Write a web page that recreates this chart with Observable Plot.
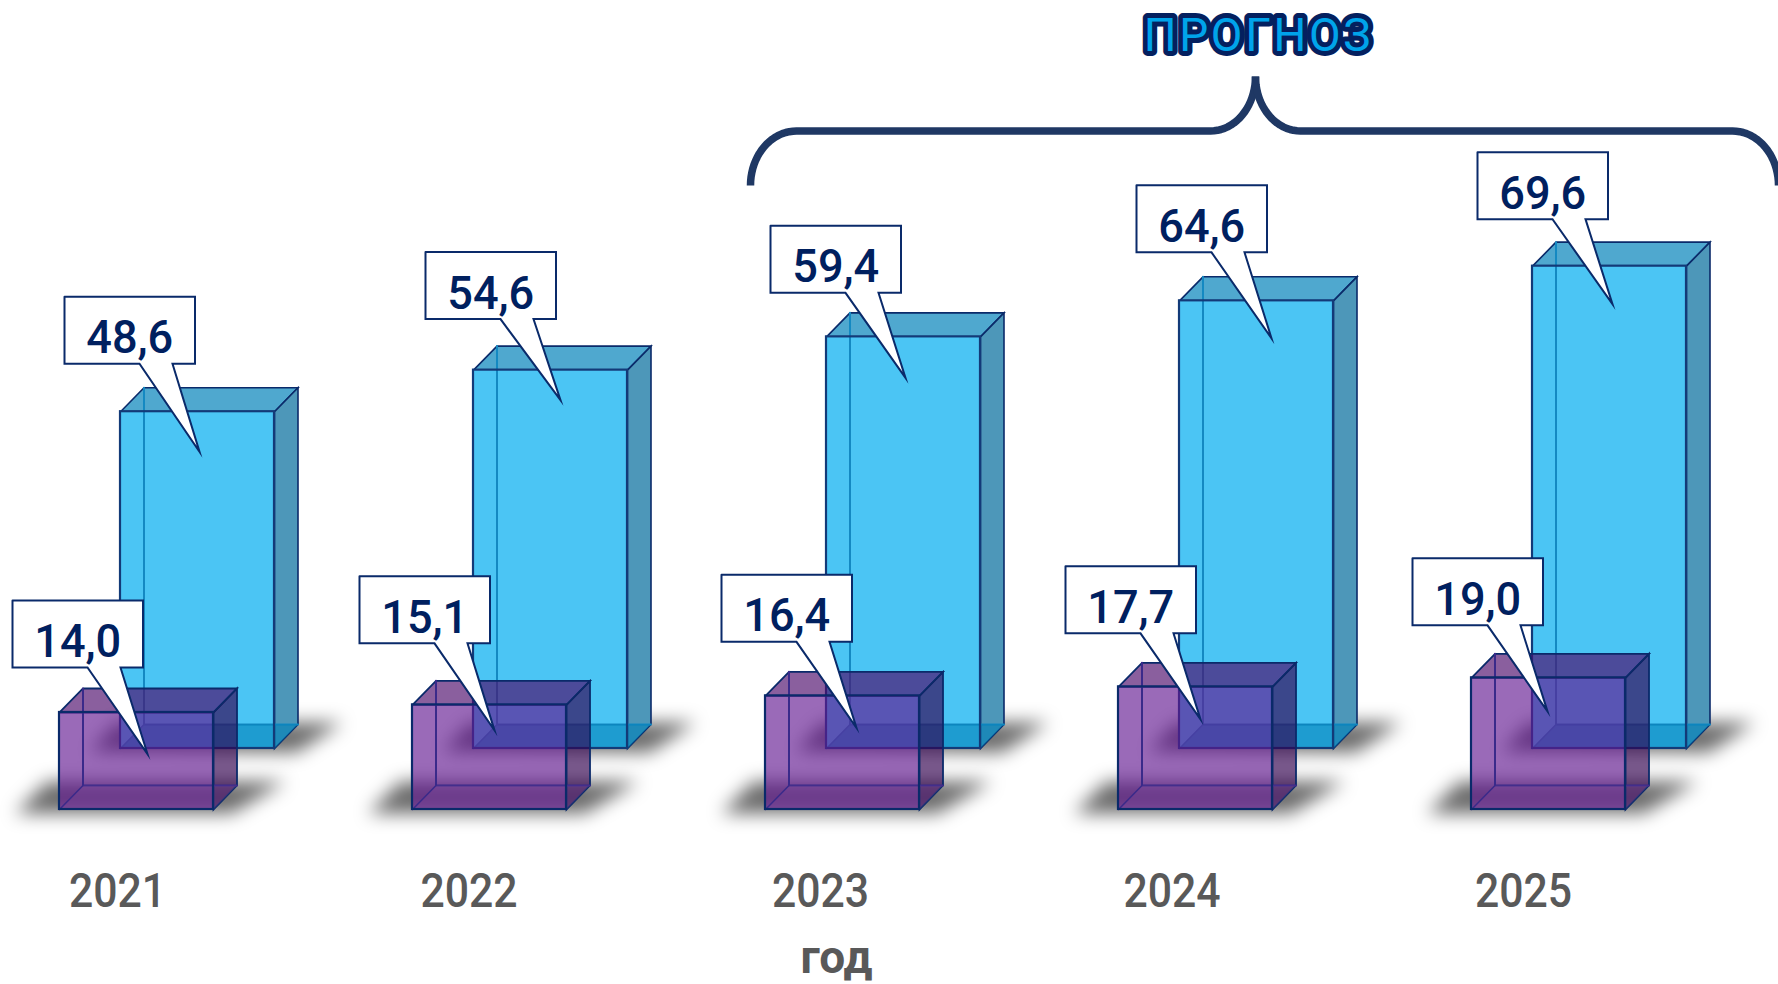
<!DOCTYPE html>
<html>
<head>
<meta charset="utf-8">
<script src="https://cdn.jsdelivr.net/npm/d3@7"></script>
<script src="https://cdn.jsdelivr.net/npm/@observablehq/plot@0.6"></script>
<style>html,body{margin:0;padding:0;background:#fff}svg{display:block}</style>
</head>
<body>
<div id="chart"></div>
<script>
const years = [2021, 2022, 2023, 2024, 2025];
const blueValues = [48.6, 54.6, 59.4, 64.6, 69.6];
const purpleValues = [14.0, 15.1, 16.4, 17.7, 19.0];
const axisName = "год";
const forecastLabel = "ПРОГНОЗ";

// Scale calibration (pixels per year, pixels per unit)
const W = 1778, H = 984, PX = 353, PY = 6.93, X0 = 117, BASE = 748;
const LOWER = 61;                 // the purple row stands lower than the blue one
const DEPTH_X = 23.5, DEPTH_Y = 24; // 3D depth
const fx = (yr, px) => yr + px / PX;
const fy = (v, px) => v - px / PY;

const blueGeom = {left: 3, width: 154};
const purpleGeom = {left: -58, width: 154};

// Callout placement relative to each bar's top-left corner (annotation layout)
const blueNoteDx = [-56, -48, -56, -43, -55];
const blueNoteDy = [-115, -118, -111, -115.5, -114];
const blueTipDy = [155, 148, 152, 153, 152];
const purpleNoteDx = [-47, -53, -44, -53, -59];
const purpleNoteDy = [-112, -128.5, -121, -120.5, -119.5];
const purpleTipDy = [153.5, 154, 153, 153, 153];
const NOTE_W = 130.5, NOTE_H = 67, TAIL_A = 75, TAIL_B = 108, TIP_X = 135;

const fmt = v => d3.format(".1f")(v).replace(".", ",");

function prism(values, g) {
  const faces = {top: [], side: [], bottom: [], backV: [], backB: []};
  const push = (arr, id, pts, yr, v) => pts.forEach(([a, b]) => arr.push({id, x: fx(yr, g.left + a), y: fy(v, b)}));
  values.forEach((v, i) => {
    const yr = years[i], w = g.width, d = DEPTH_X, e = DEPTH_Y;
    push(faces.top, "t" + i, [[0, 0], [d, -e], [w + d, -e], [w, 0], [0, 0]], yr, v);
    [[w, 0, v], [w + d, -e, v], [w + d, -e, 0], [w, 0, 0], [w, 0, v]].forEach(([a, b, val]) =>
      faces.side.push({id: "s" + i, x: fx(yr, g.left + a), y: fy(val, b)}));
    push(faces.bottom, "b" + i, [[0, 0], [d, -e], [w + d, -e], [w, 0], [0, 0]], yr, 0);
    [[d, -e, v], [d, -e, 0], [w + d, -e, 0]].forEach(([a, b, val]) =>
      faces.backV.push({id: "v" + i, x: fx(yr, g.left + a), y: fy(val, b)}));
    [[0, 0], [d, -e]].forEach(([a, b]) => faces.backB.push({id: "k" + i, x: fx(yr, g.left + a), y: fy(0, b)}));
  });
  return faces;
}

const rects = (values, g) => values.map((v, i) => ({x1: fx(years[i], g.left), x2: fx(years[i], g.left + g.width), y1: 0, y2: v}));

function shadow(pts, g) {
  return years.flatMap((yr, i) => pts.map(([a, b]) => ({id: i, x: fx(yr, g.left + a), y: fy(0, b)})));
}
const blueShadowShape = [[-30, 3], [-4, -26], [222, -26], [176, 4]];
const purpleShadowShape = [[-44, 4], [-12, -28], [226, -28], [172, 4]];

function notes(values, g, dxs, dys, tips) {
  const outline = [], labels = [];
  values.forEach((v, i) => {
    const L = g.left + dxs[i], T = dys[i], yr = years[i];
    [[0, 0], [NOTE_W, 0], [NOTE_W, NOTE_H], [TAIL_B, NOTE_H], [TIP_X, tips[i]], [TAIL_A, NOTE_H], [0, NOTE_H], [0, 0]]
      .forEach(([a, b]) => outline.push({id: i, x: fx(yr, L + a), y: fy(v, T + b)}));
    labels.push({x: fx(yr, L + NOTE_W / 2), y: fy(v, T + NOTE_H / 2 + 8), text: fmt(v)});
  });
  return {outline, labels};
}

// Brace over the forecast years, built from quarter ellipses
function arc(cx, cy, rx, ry, a0, a1) {
  return d3.range(0, 21).map(k => {
    const a = (a0 + (a1 - a0) * k / 20) * Math.PI / 180;
    return [cx + rx * Math.cos(a), cy + ry * Math.sin(a)];
  });
}
const braceLeft = [...arc(796, 185, 46, 54.5, 180, 270), ...arc(1210, 76, 45, 54.5, 90, 0)];
const braceRight = [...arc(1300, 76, 45, 54.5, 180, 90), ...arc(1732, 185, 46, 54.5, 270, 360)];
const toData = (pts, id) => pts.map(([x, y]) => ({id, x: 2021 + (x - X0) / PX, y: (BASE - y) / PY}));
const brace = [...toData(braceLeft, "l"), ...toData(braceRight, "r")];

const blur = r => (index, scales, values, dim, ctx, next) => {
  const g = next(index, scales, values, dim, ctx);
  g.style.filter = `blur(${r}px)`;
  return g;
};
// horizontally condenses each text in place (the reference face is a narrow DIN)
const condense = (k, spacing) => (index, scales, values, dim, ctx, next) => {
  const g = next(index, scales, values, dim, ctx);
  if (spacing) g.style.letterSpacing = spacing + "px";
  g.querySelectorAll("text").forEach(t => t.setAttribute("transform", (t.getAttribute("transform") || "") + ` scale(${k} 1)`));
  return g;
};

const NAVY = "#0a2a6a";
const polyOpts = {x: "x", y: "y", z: "id", strokeLinejoin: "miter", strokeMiterlimit: 10};
const noteText = {x: "x", y: "y", text: "text", fill: "#00205f", fontFamily: "Roboto", fontWeight: 500, fontSize: 47, textAnchor: "middle", lineAnchor: "middle", render: condense(0.96)};
const titleText = {x: fx(2021, 1141), y: fy(0, -712), text: d => d, fontFamily: "Roboto", fontWeight: 400, fontSize: 46, textAnchor: "middle", lineAnchor: "middle", render: condense(1, 2.7)};
const blueF = prism(blueValues, blueGeom), purpleF = prism(purpleValues, purpleGeom);
const blueN = notes(blueValues, blueGeom, blueNoteDx, blueNoteDy, blueTipDy);
const purpleN = notes(purpleValues, purpleGeom, purpleNoteDx, purpleNoteDy, purpleTipDy);

const chart = Plot.plot({
  width: W, height: H,
  margin: 0, marginTop: 0, marginRight: 0, marginBottom: 0, marginLeft: 0,
  x: {type: "linear", domain: [2021 - X0 / PX, 2021 + (W - X0) / PX], range: [0, W], axis: null},
  y: {type: "linear", domain: [(BASE - H) / PY, BASE / PY], range: [H, 0], axis: null},
  style: {background: "#fff", overflow: "hidden"},
  marks: [
    // blue bars
    Plot.line(shadow(blueShadowShape, blueGeom), {...polyOpts, fill: "#000", fillOpacity: 0.58, stroke: "none", render: blur(9)}),
    Plot.line(blueF.top, {...polyOpts, fill: "#4fa8cf", stroke: NAVY, strokeWidth: 1.6}),
    Plot.line(blueF.side, {...polyOpts, fill: "#4d97b9", stroke: NAVY, strokeWidth: 1.6}),
    Plot.rect(rects(blueValues, blueGeom), {x1: "x1", x2: "x2", y1: "y1", y2: "y2", fill: "#4bc5f4"}),
    Plot.line(blueF.backV, {...polyOpts, stroke: "#1489c2", strokeWidth: 2}),
    Plot.line(blueF.bottom, {...polyOpts, fill: "#0080b8", fillOpacity: 0.6, stroke: "none"}),
    Plot.line(blueF.backB, {...polyOpts, stroke: "#1489c2", strokeWidth: 1.5}),
    Plot.rect(rects(blueValues, blueGeom), {x1: "x1", x2: "x2", y1: "y1", y2: "y2", fill: "none", stroke: "#133a78", strokeWidth: 2.2}),
    // blue callouts
    Plot.line(blueN.outline, {...polyOpts, fill: "#fff", stroke: NAVY, strokeWidth: 2}),
    Plot.text(blueN.labels, noteText),
    // purple bars
    Plot.line(shadow(purpleShadowShape, purpleGeom), {...polyOpts, dy: LOWER, fill: "#000", fillOpacity: 0.58, stroke: "none", render: blur(9)}),
    Plot.line(purpleF.top, {...polyOpts, dy: LOWER, fill: "#4e0c6c", fillOpacity: 0.66, stroke: NAVY, strokeWidth: 1.8}),
    Plot.line(purpleF.side, {...polyOpts, dy: LOWER, fill: "#330251", fillOpacity: 0.644, stroke: NAVY, strokeWidth: 1.8}),
    Plot.rect(rects(purpleValues, purpleGeom), {x1: "x1", x2: "x2", y1: "y1", y2: "y2", dy: LOWER, fill: "#621891", fillOpacity: 0.644}),
    Plot.line(purpleF.backV, {...polyOpts, dy: LOWER, stroke: "#3a2a8a", strokeWidth: 2}),
    Plot.line(purpleF.bottom, {...polyOpts, dy: LOWER, fill: "#7a4a9a", fillOpacity: 0.3, stroke: "none"}),
    Plot.line(purpleF.backB, {...polyOpts, dy: LOWER, stroke: "#3a2a8a", strokeWidth: 1.5}),
    Plot.rect(rects(purpleValues, purpleGeom), {x1: "x1", x2: "x2", y1: "y1", y2: "y2", dy: LOWER, fill: "none", stroke: NAVY, strokeWidth: 2.2}),
    // purple callouts
    Plot.line(purpleN.outline, {...polyOpts, dy: LOWER, fill: "#fff", stroke: NAVY, strokeWidth: 2}),
    Plot.text(purpleN.labels, {...noteText, dy: LOWER}),
    // axis labels
    Plot.text(years, {x: (d, i) => d - i * 1.5 / PX, y: fy(0, 143), text: d => String(d), fill: "#595959", fontFamily: "Roboto", fontWeight: 500, fontSize: 48, textAnchor: "middle", lineAnchor: "middle", render: condense(0.89)}),
    Plot.text([axisName], {x: fx(2021, 719), y: fy(0, 210), text: d => d, fill: "#595959", fontFamily: "Roboto", fontWeight: 700, fontSize: 46, textAnchor: "middle", lineAnchor: "middle"}),
    // forecast brace and label
    Plot.line(brace, {x: "x", y: "y", z: "id", stroke: "#1f3864", strokeWidth: 7.5, strokeLinecap: "butt", strokeLinejoin: "round"}),
    Plot.text([forecastLabel], {...titleText, fill: "#04205f", stroke: "#04205f", strokeWidth: 10, strokeLinejoin: "round"}),
    Plot.text([forecastLabel], {...titleText, fill: "#00a4ea"})
  ]
});
document.getElementById("chart").appendChild(chart);
</script>
</body>
</html>
